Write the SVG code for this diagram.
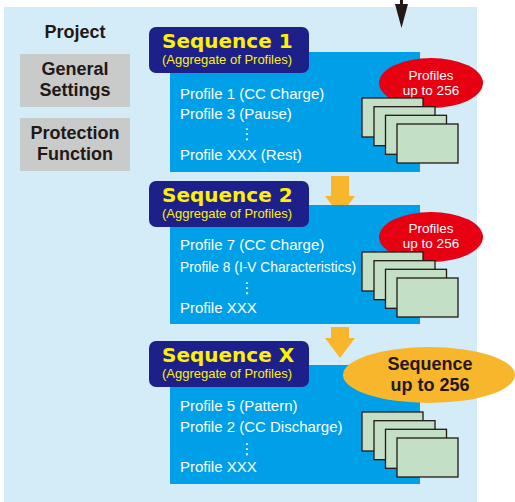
<svg xmlns="http://www.w3.org/2000/svg" width="515" height="502" viewBox="0 0 515 502">
<defs>
<style>
.bg{fill:#d4ebf8}
.grey{fill:#c9caca}
.lbl{font-family:"Liberation Sans",Arial,sans-serif;font-weight:bold;font-size:18px;fill:#231815;text-anchor:middle}
.hdr{fill:#1d2088}
.box{fill:#00a0e9}
.seqt{font-family:"DejaVu Sans",sans-serif;font-weight:bold;font-size:20px;fill:#fff100}
.agg{font-family:"Liberation Sans",Arial,sans-serif;font-size:13px;fill:#fff100}
.prof{font-family:"Liberation Sans",Arial,sans-serif;font-size:15px;fill:#ffffff}
.dots{font-family:"DejaVu Sans",sans-serif;font-size:15px;fill:#ffffff;text-anchor:middle}
.red{fill:#e60012}
.redt{font-family:"Liberation Sans",Arial,sans-serif;font-size:13.5px;fill:#ffffff;text-anchor:middle}
.card{fill:#c3dfc5;stroke:#231815;stroke-width:1.3}
.orange{fill:#f8b62d}
.orat{font-family:"Liberation Sans",Arial,sans-serif;font-weight:bold;font-size:18px;fill:#231815;text-anchor:middle}
</style>
<g id="stack">
<rect class="card" x="362" y="98" width="61" height="39"/>
<rect class="card" x="374" y="106.7" width="61" height="39"/>
<rect class="card" x="385.5" y="115.3" width="61" height="39"/>
<rect class="card" x="397" y="124" width="61" height="39"/>
</g>
</defs>

<rect class="bg" x="4" y="7" width="473" height="495"/>

<g id="project">
<text class="lbl" x="75" y="38">Project</text>
</g>
<g id="general-settings">
<rect class="grey" x="20" y="54" width="110" height="53"/>
<text class="lbl" x="75" y="75">General</text>
<text class="lbl" x="75" y="96">Settings</text>
</g>
<g id="protection-function">
<rect class="grey" x="20" y="118" width="110" height="53"/>
<text class="lbl" x="75" y="139">Protection</text>
<text class="lbl" x="75" y="160">Function</text>
</g>

<g id="connectors">
<path d="M400 0 H403 V4 H408 L401.5 28 L395 4 H400 Z" fill="#231815"/>
<path class="orange" d="M331 176 H349 V196 H355 L340 216 L325 196 H331 Z"/>
<path class="orange" d="M331 327 H349 V338 H355 L340 358 L325 338 H331 Z"/>
</g>

<g id="sequence-1">
<rect class="box" x="170" y="52" width="250" height="120"/>
<rect class="hdr" x="149" y="27" width="160" height="46" rx="7"/>
<text class="seqt" x="162" y="48">Sequence 1</text>
<text class="agg" x="162" y="64">(Aggregate of Profiles)</text>
<text class="prof" x="180" y="98.5">Profile 1 (CC Charge)</text>
<text class="prof" x="180" y="118.5">Profile 3 (Pause)</text>
<text class="dots" x="247" y="139">⋮</text>
<text class="prof" x="180" y="160">Profile XXX (Rest)</text>
<ellipse class="red" cx="431" cy="83" rx="52" ry="25"/>
<text class="redt" x="431" y="80">Profiles</text>
<text class="redt" x="431" y="95">up to 256</text>
<use href="#stack"/>
</g>

<g id="sequence-2">
<rect class="box" x="170" y="205" width="250" height="119"/>
<rect class="hdr" x="149" y="181" width="160" height="46" rx="7"/>
<text class="seqt" x="162" y="202">Sequence 2</text>
<text class="agg" x="162" y="218">(Aggregate of Profiles)</text>
<text class="prof" x="180" y="250">Profile 7 (CC Charge)</text>
<text class="prof" x="180" y="272" textLength="176" lengthAdjust="spacingAndGlyphs">Profile 8 (I-V Characteristics)</text>
<text class="dots" x="247" y="293">⋮</text>
<text class="prof" x="180" y="313">Profile XXX</text>
<ellipse class="red" cx="431" cy="237" rx="52" ry="25"/>
<text class="redt" x="431" y="233">Profiles</text>
<text class="redt" x="431" y="248">up to 256</text>
<use href="#stack" y="154"/>
</g>

<g id="sequence-x">
<rect class="box" x="170" y="365" width="250" height="119"/>
<rect class="hdr" x="149" y="341" width="160" height="46" rx="7"/>
<text class="seqt" x="162" y="362">Sequence X</text>
<text class="agg" x="162" y="378">(Aggregate of Profiles)</text>
<text class="prof" x="180" y="411">Profile 5 (Pattern)</text>
<text class="prof" x="180" y="432">Profile 2 (CC Discharge)</text>
<text class="dots" x="247" y="454">⋮</text>
<text class="prof" x="180" y="472">Profile XXX</text>
<use href="#stack" y="314"/>
</g>

<g id="sequence-limit">
<ellipse class="orange" cx="429" cy="375" rx="86" ry="28"/>
<text class="orat" x="430" y="370">Sequence</text>
<text class="orat" x="430" y="391">up to 256</text>
</g>
</svg>
